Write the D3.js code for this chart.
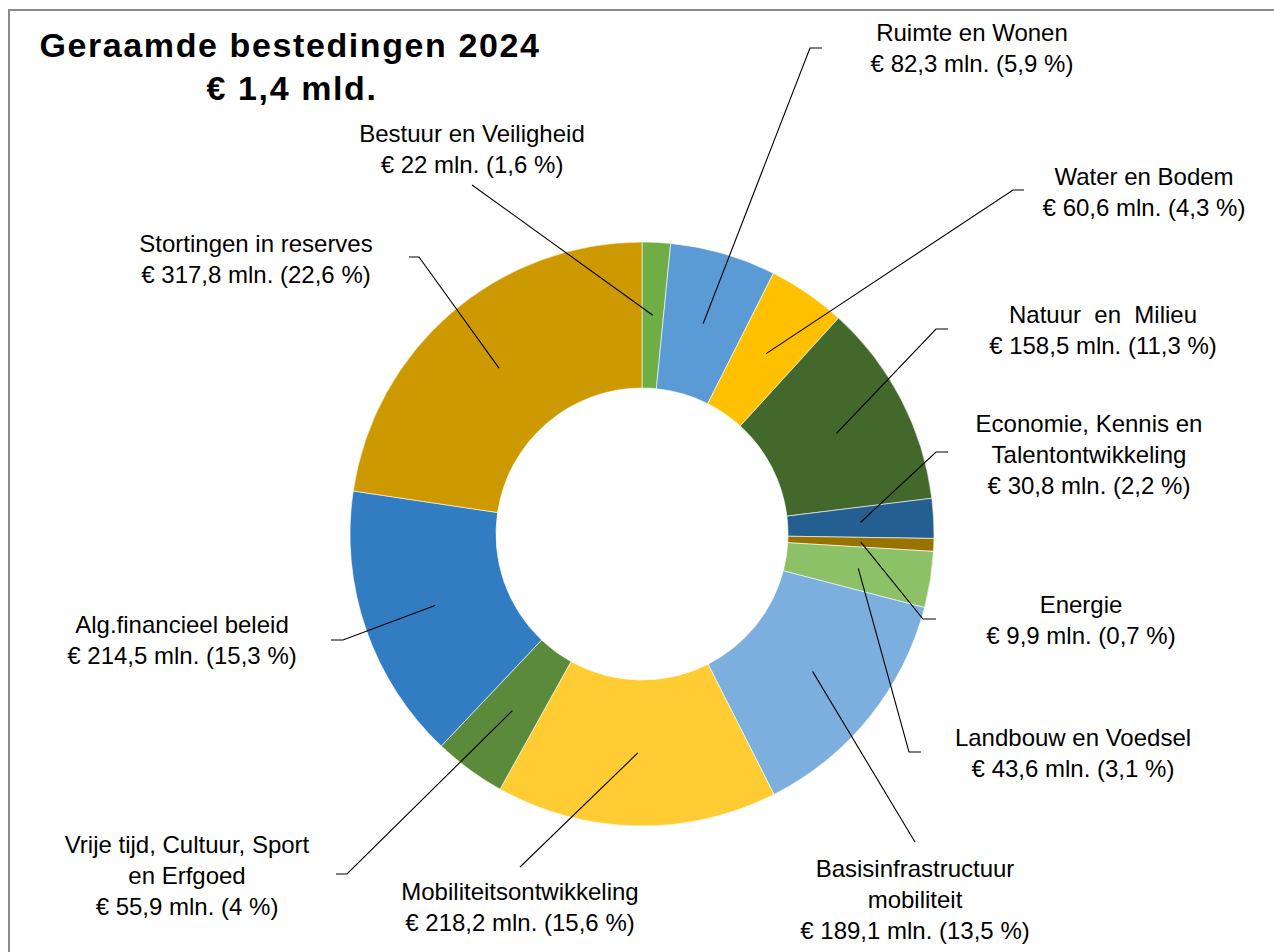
<!DOCTYPE html>
<html lang="nl">
<head>
    <meta charset="UTF-8">
    <title>Geraamde bestedingen 2024</title>
    <script src="https://d3js.org/d3.v7.min.js"></script>
    <style>
        body { margin: 0; background: #fff; }
        text { font-family: "Liberation Sans", Arial, sans-serif; fill: #000; }
    </style>
</head>
<body>
    <div id="chart"></div>
    <script>
        // data
        var categories = ["Bestuur en Veiligheid", "Ruimte en Wonen", "Water en Bodem", "Natuur  en  Milieu",
            "Economie, Kennis en\nTalentontwikkeling", "Energie", "Landbouw en Voedsel",
            "Basisinfrastructuur\nmobiliteit", "Mobiliteitsontwikkeling",
            "Vrije tijd, Cultuur, Sport\nen Erfgoed", "Alg.financieel beleid", "Stortingen in reserves"];
        var amounts = [22, 82.3, 60.6, 158.5, 30.8, 9.9, 43.6, 189.1, 218.2, 55.9, 214.5, 317.8];
        var percents = ["1,6", "5,9", "4,3", "11,3", "2,2", "0,7", "3,1", "13,5", "15,6", "4", "15,3", "22,6"];
        var colors = ["#70ad47", "#5b9bd5", "#ffc000", "#43682b", "#255e91", "#997300", "#8cc168",
            "#7cafdd", "#ffcc33", "#5a8a3a", "#327dc2", "#cc9a00"];

        // layout of labels: text centre x, first baseline y
        var labelPos = [[472, 142], [972, 41], [1144, 185], [1103, 323], [1089, 432], [1081, 613],
            [1073, 746], [915, 877], [520, 900], [187, 853], [182, 633], [256, 252]];
        // leader lines: elbow x, elbow y, end x of short horizontal (null = none)
        var leaderPos = [[472, 185, null], [810, 48, 822], [1013, 190, 1024], [936, 329, 948],
            [936, 452, 948], [923, 619, 936], [909, 752, 921], [915, 842, null], [520, 867, null],
            [347, 874, 336], [343, 640, 331], [419, 257, 409]];

        var width = 1274, height = 952;
        var cx = 642, cy = 534, outerR = 292, innerR = 146;
        var lineH = 31;

        var svg = d3.select("#chart").append("svg")
            .attr("width", width)
            .attr("height", height);

        // frame
        svg.append("rect")
            .attr("x", 9)
            .attr("y", 10)
            .attr("width", 1400)
            .attr("height", 1100)
            .attr("fill", "none")
            .attr("stroke", "#8c8c8c")
            .attr("stroke-width", 2);

        // title
        var title = svg.append("text")
            .attr("text-anchor", "middle")
            .style("font-weight", "bold")
            .style("font-size", "34px")
            .style("letter-spacing", "1.6px");
        title.append("tspan").attr("x", 290).attr("y", 57).text("Geraamde bestedingen 2024");
        title.append("tspan").attr("x", 292).attr("y", 100).text("€ 1,4 mld.");

        var pie = d3.pie().sort(null).value(function(d) { return d; });
        var arcs = pie(amounts);

        var arc = d3.arc().innerRadius(innerR).outerRadius(outerR);
        var midArc = d3.arc().innerRadius((innerR + outerR) / 2).outerRadius((innerR + outerR) / 2);

        var g = svg.append("g").attr("transform", "translate(" + cx + "," + cy + ")");

        g.selectAll(".slice")
            .data(arcs)
            .enter()
            .append("path")
            .attr("class", "slice")
            .attr("d", arc)
            .attr("fill", function(d, i) { return colors[i]; })
            .attr("stroke", "#fff")
            .attr("stroke-width", 0.6);

        // leader lines
        svg.selectAll(".leader")
            .data(arcs)
            .enter()
            .append("polyline")
            .attr("class", "leader")
            .attr("fill", "none")
            .attr("stroke", "#000")
            .attr("stroke-width", 1.1)
            .attr("points", function(d, i) {
                var c = midArc.centroid(d);
                var p = leaderPos[i];
                var pts = [[cx + c[0], cy + c[1]], [p[0], p[1]]];
                if (p[2] !== null) pts.push([p[2], p[1]]);
                return pts.map(function(q) { return q.join(","); }).join(" ");
            });

        // labels
        function fmt(v) { return String(v).replace(".", ","); }

        var labels = svg.selectAll(".label")
            .data(categories)
            .enter()
            .append("text")
            .attr("class", "label")
            .attr("text-anchor", "middle")
            .style("font-size", "24px")
            .style("white-space", "pre");

        labels.each(function(name, i) {
            var lines = name.split("\n");
            lines.push("€ " + fmt(amounts[i]) + " mln. (" + percents[i] + " %)");
            var t = d3.select(this);
            lines.forEach(function(l, k) {
                t.append("tspan")
                    .attr("x", labelPos[i][0])
                    .attr("y", labelPos[i][1] + k * lineH)
                    .text(l);
            });
        });
    </script>
</body>
</html>
